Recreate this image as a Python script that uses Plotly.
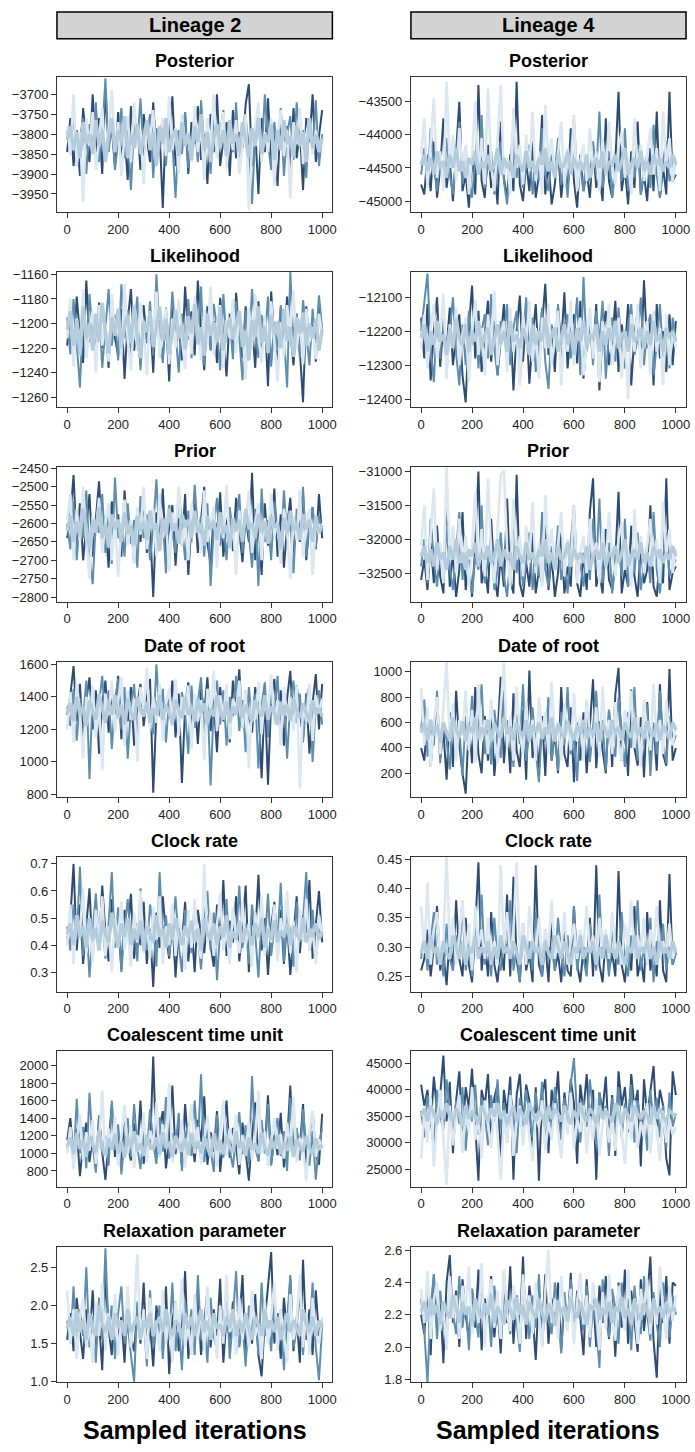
import numpy as np
import plotly.graph_objects as go

# ---------------- data (4 chains per panel, sampled iterations 0..1000) ----------------
l2_posterior = [
 [-3845,-3760,-3880,-3790,-3905,-3735,-3820,-3870,-3700,-3845,-3760,-3900,-3690,-3830,-3785,-3880,-3745,-3860,-3800,-3915,-3730,-3835,-3775,-3890,-3750,-3810,-3870,-3720,-3850,-3795,-3985,-3760,-3830,-3705,-3880,-3790,-3840,-3745,-3900,-3770,-3825,-3730,-3865,-3800,-3925,-3750,-3845,-3700,-3880,-3815,-3770,-3905,-3740,-3860,-3795,-3835,-3725,-3675,-3880,-3790,-3950,-3760,-3845,-3710,-3870,-3800,-3930,-3745,-3830,-3780,-3895,-3735,-3860,-3790,-3940,-3760,-3820,-3700,-3870,-3805,-3740],
 [-3790,-3850,-3740,-3880,-3810,-3760,-3900,-3775,-3835,-3720,-3870,-3800,-3660,-3845,-3765,-3890,-3815,-3735,-3860,-3790,-3940,-3770,-3830,-3710,-3855,-3800,-3750,-3910,-3785,-3840,-3760,-3880,-3725,-3820,-3960,-3790,-3850,-3745,-3885,-3805,-3765,-3870,-3715,-3835,-3790,-3900,-3750,-3855,-3800,-3740,-3875,-3780,-3845,-3720,-3890,-3810,-3760,-3830,-3975,-3795,-3745,-3860,-3700,-3820,-3890,-3770,-3845,-3735,-3905,-3800,-3755,-3865,-3720,-3830,-3790,-3910,-3760,-3845,-3715,-3880,-3800],
 [-3815,-3780,-3840,-3795,-3860,-3770,-3825,-3800,-3850,-3765,-3830,-3790,-3870,-3805,-3760,-3845,-3790,-3820,-3755,-3860,-3800,-3835,-3775,-3850,-3810,-3765,-3840,-3795,-3880,-3780,-3825,-3760,-3845,-3805,-3790,-3855,-3770,-3830,-3800,-3865,-3780,-3820,-3750,-3840,-3795,-3870,-3810,-3775,-3835,-3790,-3855,-3765,-3825,-3800,-3845,-3770,-3815,-3860,-3785,-3830,-3760,-3850,-3800,-3820,-3775,-3865,-3790,-3840,-3765,-3825,-3805,-3855,-3780,-3830,-3795,-3870,-3760,-3835,-3800,-3845,-3810],
 [-3780,-3850,-3700,-3880,-3795,-3970,-3760,-3830,-3745,-3890,-3810,-3735,-3860,-3790,-3690,-3845,-3770,-3905,-3800,-3755,-3870,-3720,-3835,-3790,-3925,-3765,-3815,-3740,-3880,-3800,-3760,-3855,-3705,-3840,-3785,-3900,-3750,-3825,-3795,-3870,-3730,-3845,-3780,-3915,-3760,-3830,-3700,-3860,-3805,-3745,-3885,-3790,-3840,-3765,-3900,-3815,-3750,-3990,-3835,-3780,-3720,-3870,-3795,-3845,-3760,-3930,-3805,-3740,-3855,-3790,-3960,-3770,-3825,-3735,-3875,-3800,-3760,-3850,-3790,-3830,-3815],
]
l2_likelihood = [
 [-1218,-1190,-1225,-1178,-1210,-1232,-1165,-1215,-1196,-1228,-1183,-1220,-1200,-1236,-1180,-1212,-1226,-1188,-1245,-1198,-1172,-1222,-1205,-1234,-1185,-1216,-1193,-1240,-1176,-1212,-1228,-1195,-1247,-1182,-1218,-1204,-1230,-1170,-1213,-1190,-1226,-1165,-1208,-1238,-1186,-1221,-1198,-1232,-1179,-1214,-1243,-1192,-1220,-1175,-1210,-1228,-1186,-1216,-1200,-1236,-1182,-1223,-1195,-1251,-1174,-1212,-1230,-1188,-1218,-1178,-1205,-1234,-1192,-1222,-1264,-1186,-1214,-1197,-1231,-1183,-1210],
 [-1195,-1225,-1180,-1214,-1252,-1190,-1228,-1176,-1208,-1222,-1185,-1236,-1200,-1172,-1218,-1193,-1230,-1168,-1212,-1189,-1226,-1203,-1178,-1238,-1196,-1215,-1182,-1226,-1160,-1210,-1232,-1187,-1220,-1174,-1206,-1240,-1192,-1217,-1180,-1228,-1198,-1213,-1170,-1234,-1190,-1222,-1184,-1205,-1238,-1176,-1215,-1196,-1229,-1182,-1211,-1246,-1189,-1220,-1172,-1206,-1228,-1193,-1214,-1178,-1235,-1199,-1222,-1185,-1210,-1252,-1158,-1216,-1192,-1228,-1181,-1209,-1234,-1188,-1219,-1177,-1205],
 [-1205,-1190,-1218,-1197,-1226,-1186,-1212,-1200,-1222,-1192,-1215,-1183,-1208,-1224,-1195,-1210,-1188,-1220,-1202,-1193,-1216,-1185,-1211,-1228,-1198,-1207,-1190,-1219,-1203,-1186,-1214,-1196,-1225,-1205,-1189,-1212,-1200,-1221,-1194,-1208,-1184,-1217,-1203,-1226,-1192,-1210,-1199,-1215,-1187,-1222,-1204,-1195,-1213,-1201,-1190,-1219,-1206,-1230,-1197,-1211,-1186,-1216,-1202,-1224,-1193,-1209,-1198,-1220,-1188,-1214,-1203,-1227,-1195,-1208,-1191,-1218,-1200,-1212,-1196,-1222,-1205],
 [-1212,-1180,-1235,-1196,-1220,-1172,-1228,-1205,-1190,-1240,-1185,-1218,-1200,-1231,-1176,-1210,-1193,-1226,-1168,-1214,-1238,-1195,-1222,-1183,-1207,-1242,-1190,-1216,-1174,-1228,-1202,-1188,-1233,-1196,-1220,-1180,-1211,-1237,-1194,-1225,-1178,-1206,-1230,-1189,-1218,-1170,-1226,-1201,-1185,-1236,-1197,-1212,-1180,-1224,-1191,-1206,-1245,-1187,-1219,-1176,-1210,-1232,-1194,-1223,-1182,-1214,-1247,-1199,-1227,-1185,-1208,-1173,-1221,-1196,-1233,-1188,-1215,-1203,-1229,-1192,-1210],
]
l2_prior = [
 [-2640,-2580,-2468,-2660,-2545,-2700,-2610,-2520,-2690,-2575,-2485,-2650,-2600,-2720,-2540,-2630,-2575,-2690,-2510,-2640,-2595,-2710,-2560,-2650,-2525,-2680,-2600,-2800,-2570,-2640,-2505,-2690,-2610,-2550,-2715,-2585,-2660,-2520,-2740,-2600,-2545,-2680,-2590,-2500,-2655,-2710,-2570,-2630,-2515,-2690,-2600,-2560,-2675,-2530,-2620,-2705,-2580,-2650,-2462,-2700,-2590,-2740,-2545,-2660,-2600,-2505,-2690,-2575,-2720,-2610,-2530,-2680,-2590,-2650,-2520,-2700,-2605,-2555,-2670,-2520,-2640],
 [-2600,-2670,-2540,-2700,-2580,-2640,-2510,-2690,-2765,-2590,-2625,-2520,-2680,-2560,-2710,-2475,-2640,-2600,-2690,-2545,-2655,-2590,-2720,-2525,-2640,-2575,-2700,-2610,-2480,-2660,-2590,-2735,-2550,-2625,-2680,-2510,-2600,-2700,-2565,-2650,-2495,-2620,-2580,-2690,-2545,-2770,-2610,-2530,-2660,-2590,-2700,-2555,-2640,-2600,-2520,-2680,-2575,-2630,-2720,-2560,-2770,-2505,-2650,-2590,-2700,-2540,-2620,-2680,-2510,-2640,-2590,-2735,-2560,-2625,-2500,-2690,-2600,-2555,-2665,-2580,-2620],
 [-2620,-2580,-2650,-2595,-2635,-2560,-2610,-2670,-2590,-2625,-2555,-2640,-2600,-2665,-2575,-2615,-2590,-2650,-2570,-2630,-2605,-2660,-2580,-2620,-2595,-2645,-2565,-2615,-2600,-2675,-2585,-2630,-2560,-2620,-2600,-2655,-2575,-2610,-2590,-2640,-2565,-2625,-2600,-2660,-2580,-2615,-2595,-2645,-2570,-2630,-2605,-2665,-2585,-2620,-2590,-2650,-2560,-2615,-2600,-2640,-2575,-2625,-2595,-2655,-2580,-2610,-2600,-2670,-2585,-2630,-2565,-2620,-2600,-2645,-2575,-2615,-2590,-2650,-2580,-2625,-2605],
 [-2590,-2520,-2700,-2560,-2650,-2500,-2640,-2750,-2580,-2620,-2530,-2680,-2600,-2545,-2700,-2585,-2745,-2610,-2535,-2660,-2590,-2710,-2555,-2630,-2500,-2670,-2600,-2560,-2690,-2520,-2640,-2595,-2730,-2570,-2620,-2500,-2660,-2590,-2700,-2545,-2625,-2590,-2680,-2510,-2650,-2600,-2555,-2720,-2580,-2640,-2495,-2670,-2600,-2740,-2565,-2630,-2590,-2510,-2680,-2600,-2545,-2700,-2585,-2650,-2520,-2635,-2595,-2710,-2560,-2620,-2750,-2580,-2645,-2510,-2690,-2600,-2560,-2740,-2590,-2630,-2600],
]
l2_root = [
 [1290,1410,1590,1250,1480,1130,1380,1520,1200,1440,1050,1360,1500,1180,1420,1290,1530,1140,1390,1250,1460,1100,1350,1480,1220,1400,1510,810,1320,1450,1180,1380,1270,1500,1150,1420,870,1340,1490,1220,1400,1110,1450,1300,1520,1190,1370,1060,1460,1250,1400,1120,1500,1330,1570,1210,1440,1290,1180,1460,1350,900,1420,860,1380,1510,1230,1440,1100,1390,1560,1200,1470,1300,1150,1420,1050,1360,1540,1200,1480],
 [1340,1220,1450,1130,1390,1270,1500,895,1420,1180,1360,1530,1240,1440,1080,1380,1510,1200,1460,1020,1340,1480,1150,1400,1300,1520,1230,1170,1600,1280,1450,1120,1390,1250,1500,1190,1430,1300,1050,1470,1210,1380,1520,1160,1420,855,1360,1500,1230,1440,1100,1400,1280,1530,1190,1380,1060,1460,1240,1420,960,1350,1490,1150,1410,1300,1530,1180,1440,1020,1370,1500,1240,1420,1120,1390,1470,1000,1350,1440,1230],
 [1300,1360,1250,1400,1290,1340,1220,1380,1310,1260,1420,1330,1240,1370,1290,1410,1270,1350,1230,1390,1300,1260,1400,1320,1280,1370,1240,1330,1290,1410,1260,1350,1300,1230,1380,1320,1270,1400,1290,1340,1250,1390,1300,1360,1230,1330,1280,1410,1310,1260,1370,1240,1340,1290,1400,1270,1350,1300,1250,1380,1320,1280,1410,1260,1340,1300,1230,1370,1290,1350,1250,1390,1310,1270,1360,1300,1240,1380,1290,1330,1280],
 [1200,1430,1120,1480,1310,1020,1400,1250,1470,1150,1360,950,1420,1290,1500,1180,1380,1520,1100,1440,1260,1390,1000,1460,1320,1580,1200,1400,1240,1480,1130,1370,1450,1220,1510,1160,1400,1290,1470,1080,1420,1250,1380,1010,1450,1300,1560,1190,1410,1270,1480,1140,1390,1320,1500,1210,1440,960,1380,1260,1490,1170,1410,1300,1540,1230,1380,1100,1460,1280,1400,1190,1470,835,1360,1250,1480,1130,1410,1300,1390],
]
l2_clock = [
 [0.42,0.50,0.70,0.38,0.55,0.33,0.47,0.61,0.36,0.52,0.40,0.62,0.45,0.34,0.57,0.41,0.49,0.31,0.53,0.44,0.59,0.35,0.48,0.40,0.56,0.33,0.46,0.245,0.52,0.39,0.58,0.43,0.35,0.50,0.28,0.47,0.41,0.56,0.34,0.48,0.30,0.53,0.44,0.37,0.51,0.40,0.32,0.55,0.42,0.64,0.36,0.49,0.41,0.58,0.34,0.46,0.62,0.30,0.52,0.43,0.66,0.38,0.50,0.29,0.47,0.56,0.40,0.53,0.33,0.49,0.29,0.45,0.58,0.37,0.51,0.42,0.64,0.35,0.48,0.60,0.41],
 [0.47,0.38,0.55,0.42,0.69,0.36,0.50,0.28,0.45,0.59,0.40,0.52,0.35,0.48,0.67,0.39,0.54,0.30,0.46,0.57,0.41,0.50,0.34,0.61,0.43,0.38,0.55,0.47,0.32,0.67,0.42,0.51,0.36,0.48,0.58,0.40,0.30,0.53,0.44,0.37,0.56,0.42,0.31,0.49,0.60,0.38,0.52,0.27,0.46,0.41,0.57,0.35,0.50,0.43,0.62,0.39,0.48,0.33,0.55,0.44,0.28,0.51,0.40,0.59,0.36,0.47,0.42,0.63,0.34,0.52,0.45,0.32,0.56,0.41,0.49,0.67,0.38,0.53,0.35,0.46,0.43],
 [0.44,0.48,0.40,0.51,0.43,0.47,0.39,0.50,0.42,0.46,0.38,0.49,0.44,0.41,0.52,0.45,0.39,0.48,0.43,0.50,0.40,0.46,0.42,0.49,0.38,0.47,0.44,0.41,0.51,0.43,0.46,0.39,0.48,0.42,0.50,0.44,0.40,0.47,0.43,0.49,0.41,0.46,0.38,0.50,0.44,0.42,0.48,0.40,0.47,0.43,0.51,0.39,0.45,0.42,0.49,0.41,0.46,0.44,0.40,0.48,0.43,0.50,0.39,0.46,0.42,0.49,0.41,0.45,0.43,0.48,0.40,0.47,0.44,0.42,0.50,0.41,0.46,0.43,0.48,0.42,0.45],
 [0.40,0.55,0.33,0.51,0.45,0.61,0.37,0.48,0.34,0.53,0.42,0.58,0.36,0.47,0.30,0.50,0.43,0.56,0.38,0.46,0.32,0.52,0.41,0.60,0.37,0.49,0.35,0.54,0.42,0.58,0.33,0.47,0.40,0.55,0.36,0.50,0.44,0.31,0.53,0.39,0.57,0.42,0.35,0.70,0.41,0.52,0.36,0.48,0.59,0.38,0.46,0.33,0.54,0.43,0.37,0.56,0.40,0.48,0.32,0.52,0.42,0.58,0.36,0.47,0.41,0.55,0.34,0.50,0.43,0.60,0.37,0.49,0.30,0.53,0.41,0.57,0.38,0.46,0.33,0.51,0.44],
]
l2_coal = [
 [1150,1400,950,1280,740,1120,1350,900,1200,820,1430,1010,700,1180,1550,960,1250,850,1500,1080,920,1340,1020,1600,880,1210,1050,2100,960,1290,1480,830,1170,1770,990,1300,860,1560,1040,1220,900,1380,1130,1650,870,1240,1020,1480,790,1190,1600,950,1290,1070,760,1350,1000,690,1200,1580,910,1320,1050,1660,880,1210,980,1460,840,1130,1770,960,1260,1050,1560,830,1190,1480,990,870,1450],
 [1050,1250,870,1620,1000,1300,830,1690,1100,780,1420,980,1200,860,1600,1040,1330,760,1150,1400,960,1560,1080,820,1250,990,1500,1120,880,1410,1020,1640,940,1230,1080,1460,800,1190,1340,970,1600,1060,1900,900,1280,1020,790,1440,1110,950,1350,1040,840,1210,1470,990,1320,870,1880,1060,920,1380,1000,1560,860,1170,1400,970,1250,800,1630,1030,1290,920,1500,1080,860,1260,700,1120,1280],
 [1080,1180,990,1230,1050,1150,960,1200,1100,1010,1260,1070,980,1170,1040,1220,1000,1130,950,1190,1060,1250,1020,1110,970,1210,1080,1040,1180,990,1240,1060,1130,960,1200,1090,1020,1170,980,1230,1050,1140,1000,1190,1070,960,1220,1030,1150,990,1200,1080,1010,1250,1060,1130,970,1180,1040,1110,1000,1230,1070,980,1160,1050,1210,990,1120,1030,1190,960,1150,1080,1020,1200,1060,990,1170,1040,1100],
 [1000,1300,820,1160,1450,920,1240,1030,1380,880,1120,1710,960,1280,1060,1420,860,1180,1550,990,1310,830,1210,1040,1470,900,1260,1100,1580,950,1330,1070,1790,890,1160,1010,1380,840,1240,1560,1000,1300,880,1150,1420,1020,1230,850,1190,1600,970,1280,1100,1440,870,1210,1030,1360,920,1180,1710,990,1250,860,1140,1400,1050,1220,940,1350,1020,1650,900,1180,1070,690,1240,1480,960,1160,1050],
]
l2_relax = [
 [1.55,1.90,1.40,2.10,1.65,1.30,1.95,1.50,2.20,1.45,1.80,1.15,2.40,1.70,1.35,2.05,1.55,1.85,1.25,2.15,1.60,1.40,1.95,1.50,2.30,1.35,1.75,1.20,2.00,1.60,1.45,2.25,1.10,1.80,2.05,1.40,1.70,2.45,1.30,1.90,1.55,2.10,1.35,1.75,2.20,1.45,1.95,1.60,2.35,1.25,1.85,1.55,2.05,1.40,1.75,2.40,1.30,1.90,1.50,2.15,1.35,1.07,1.80,2.25,2.70,1.50,1.90,1.30,2.10,1.65,2.35,1.40,1.85,1.25,2.60,1.55,1.95,1.35,2.20,1.60,1.80],
 [1.80,1.50,2.25,1.35,1.95,1.60,2.50,1.45,1.85,1.25,2.10,1.55,2.75,1.65,2.00,1.30,1.90,2.25,1.50,1.75,1.35,1.00,2.05,1.60,1.85,1.20,2.20,1.45,1.70,2.00,1.30,1.90,1.55,2.30,1.40,1.80,1.15,2.05,1.65,1.95,1.35,2.40,1.55,1.80,1.25,2.10,1.60,1.40,1.95,1.70,2.25,1.30,1.85,2.45,1.45,1.75,1.20,2.00,1.55,1.90,1.35,2.30,1.60,1.80,1.40,2.15,1.50,1.95,1.15,1.85,2.40,1.45,1.70,2.20,1.35,1.90,1.60,2.30,1.45,1.02,1.75],
 [1.70,1.85,1.60,1.95,1.65,1.80,1.55,1.90,1.70,1.60,2.00,1.75,1.65,1.85,1.55,1.90,1.70,1.80,1.60,1.95,1.65,1.75,1.85,1.55,1.80,1.70,1.90,1.60,1.75,1.85,1.65,1.95,1.70,1.60,1.80,1.75,1.55,1.90,1.70,1.85,1.60,1.75,1.95,1.65,1.80,1.55,1.90,1.70,1.75,1.60,1.85,1.70,1.95,1.60,1.80,1.65,1.90,1.70,1.55,1.85,1.75,1.60,1.95,1.70,1.80,1.65,1.85,1.55,1.75,1.90,1.65,1.80,1.70,1.60,1.95,1.75,1.65,1.85,1.60,1.80,1.70],
 [2.20,1.50,1.95,1.30,1.85,2.10,1.45,1.75,1.25,2.05,1.60,2.30,1.40,1.90,1.55,2.15,1.35,1.80,1.65,2.25,1.45,1.85,2.67,1.55,1.95,1.30,2.10,1.60,1.80,1.40,2.20,1.50,1.90,1.25,2.05,1.65,2.35,1.45,1.75,1.35,2.15,1.55,1.95,1.40,2.25,1.60,1.85,1.30,2.00,1.50,2.40,1.65,1.80,1.35,2.10,1.55,1.90,1.45,2.20,1.60,1.75,1.30,2.05,1.50,1.85,2.30,1.40,1.95,1.60,1.25,2.15,1.55,1.80,2.40,1.45,1.90,1.35,2.10,1.65,1.50,1.85],
]

l4_posterior = [
 [-44750,-44900,-44300,-44850,-44100,-44950,-44500,-43750,-44800,-44400,-45000,-44200,-43500,-44850,-44600,-45100,-44300,-44900,-43250,-44700,-44950,-44150,-44800,-44500,-45050,-43800,-44650,-44950,-44300,-44850,-43200,-44750,-45000,-44400,-44850,-44100,-44950,-44600,-43700,-44900,-44400,-45050,-44750,-44200,-44950,-44500,-44850,-43900,-44700,-45100,-44300,-44850,-44550,-44950,-44150,-44800,-44600,-45000,-43750,-44700,-44950,-44400,-43350,-44850,-44500,-45050,-44250,-44800,-43800,-44900,-44600,-45000,-44200,-44850,-43650,-44950,-44500,-44900,-43350,-44700,-44600],
 [-44600,-44200,-44750,-43900,-44500,-44850,-44300,-44700,-44050,-44600,-44900,-44400,-43800,-44750,-44200,-44650,-44950,-44350,-44600,-43700,-44800,-44450,-44250,-44900,-44550,-44100,-44700,-45050,-44400,-43850,-44650,-44300,-44800,-44500,-44150,-44900,-44400,-44700,-43900,-44600,-44850,-44300,-44550,-44050,-44750,-44400,-44950,-44200,-43750,-44650,-44500,-44850,-44300,-44700,-44100,-44600,-43650,-44800,-44450,-44250,-44950,-44550,-44200,-44700,-43900,-44850,-44400,-44650,-44150,-44900,-44500,-44300,-44800,-43850,-44600,-44950,-44400,-44100,-44700,-44550,-44450],
 [-44450,-44300,-44550,-44350,-44600,-44250,-44500,-44400,-44650,-44300,-44500,-44200,-44550,-44400,-44650,-44350,-44450,-44250,-44600,-44400,-44500,-44300,-44550,-44450,-44200,-44600,-44350,-44500,-44400,-44650,-44300,-44450,-44550,-44250,-44500,-44400,-44600,-44350,-44450,-44200,-44550,-44400,-44650,-44300,-44500,-44450,-44250,-44600,-44350,-44500,-44400,-44550,-44300,-44650,-44450,-44350,-44500,-44250,-44600,-44400,-44450,-44300,-44550,-44400,-44200,-44600,-44450,-44350,-44500,-44250,-44550,-44400,-44600,-44300,-44450,-44350,-44550,-44400,-44500,-44300,-44450],
 [-44300,-43750,-44800,-44100,-43450,-44650,-44250,-44850,-43200,-44500,-44000,-44700,-43900,-44550,-44150,-44900,-44300,-43500,-44600,-44050,-44750,-43300,-44450,-44850,-44100,-43250,-44600,-44350,-44900,-43600,-44500,-44150,-44750,-44000,-44550,-43650,-44700,-44250,-44900,-43550,-44400,-44050,-44650,-44300,-43800,-44750,-44200,-44600,-43700,-44850,-44400,-44150,-44700,-43900,-44500,-44250,-44850,-44050,-44600,-43800,-44450,-44750,-44200,-43950,-44650,-44350,-44900,-43750,-44500,-44150,-44700,-44300,-43900,-44600,-44200,-44850,-43650,-44450,-44050,-44700,-44350],
]
l4_likelihood = [
 [-12160,-12280,-12120,-12345,-12200,-12100,-12305,-12180,-12250,-12130,-12300,-12215,-12150,-12330,-12410,-12190,-12065,-12280,-12140,-12320,-12210,-12110,-12290,-12170,-12330,-12235,-12120,-12280,-12160,-12375,-12200,-12095,-12290,-12150,-12355,-12220,-12120,-12300,-12175,-12060,-12270,-12190,-12320,-12130,-12240,-12085,-12310,-12200,-12150,-12295,-12110,-12340,-12220,-12160,-12280,-12120,-12375,-12200,-12140,-12300,-12230,-12110,-12320,-12180,-12260,-12120,-12360,-12210,-12140,-12300,-12050,-12250,-12160,-12360,-12120,-12280,-12200,-12320,-12150,-12300,-12170],
 [-12200,-12120,-12030,-12250,-12350,-12160,-12280,-12120,-12320,-12200,-12100,-12265,-12360,-12180,-12300,-12140,-12240,-12110,-12310,-12200,-12150,-12280,-12090,-12250,-12330,-12170,-12220,-12120,-12300,-12190,-12140,-12350,-12210,-12100,-12270,-12160,-12320,-12225,-12130,-12290,-12370,-12180,-12250,-12120,-12300,-12190,-12150,-12280,-12210,-12100,-12330,-12040,-12260,-12170,-12300,-12140,-12230,-12110,-12340,-12200,-12160,-12290,-12130,-12250,-12310,-12180,-12120,-12270,-12220,-12100,-12300,-12190,-12150,-12330,-12240,-12120,-12280,-12200,-12310,-12160,-12230],
 [-12220,-12180,-12260,-12200,-12240,-12170,-12230,-12210,-12270,-12190,-12250,-12160,-12220,-12240,-12180,-12260,-12200,-12230,-12170,-12250,-12210,-12190,-12270,-12220,-12180,-12240,-12200,-12260,-12170,-12230,-12210,-12250,-12190,-12220,-12270,-12180,-12240,-12200,-12230,-12160,-12250,-12210,-12190,-12260,-12220,-12180,-12240,-12200,-12270,-12190,-12230,-12170,-12250,-12210,-12220,-12180,-12260,-12200,-12240,-12190,-12230,-12170,-12250,-12210,-12200,-12260,-12180,-12230,-12220,-12190,-12250,-12200,-12240,-12170,-12230,-12210,-12260,-12190,-12220,-12200,-12230],
 [-12250,-12150,-12310,-12190,-12120,-12280,-12220,-12090,-12340,-12180,-12240,-12130,-12300,-12210,-12160,-12350,-12200,-12110,-12270,-12190,-12330,-12150,-12240,-12080,-12300,-12210,-12170,-12320,-12130,-12260,-12200,-12360,-12150,-12230,-12110,-12290,-12190,-12340,-12160,-12250,-12120,-12300,-12210,-12140,-12360,-12180,-12260,-12110,-12300,-12200,-12160,-12330,-12230,-12130,-12280,-12190,-12350,-12170,-12240,-12120,-12300,-12210,-12160,-12340,-12200,-12400,-12150,-12260,-12120,-12310,-12210,-12170,-12330,-12140,-12260,-12190,-12360,-12150,-12300,-12200,-12250],
]
l4_prior = [
 [-32600,-32300,-32750,-32050,-32650,-31800,-32550,-32800,-31500,-32700,-32200,-32850,-32450,-31600,-32750,-32300,-32850,-32100,-31000,-32650,-32400,-32800,-31700,-32550,-32850,-32250,-32700,-31400,-32600,-32800,-31050,-32650,-32850,-32350,-32700,-31900,-32800,-32450,-32650,-31650,-32750,-32250,-32850,-32500,-31900,-32800,-32400,-32700,-31550,-32650,-32850,-32200,-32750,-31600,-31100,-32700,-32500,-32800,-31850,-32600,-32750,-32300,-31300,-32800,-32450,-32700,-31800,-32550,-32850,-32100,-32650,-32450,-31500,-32700,-32850,-32250,-32650,-31100,-32750,-32500,-32400],
 [-32400,-32000,-32650,-31700,-32300,-32700,-32100,-32550,-31800,-32400,-32750,-32200,-31600,-32600,-32000,-32500,-32800,-32250,-32450,-31500,-32650,-32300,-32000,-32750,-32450,-31900,-32550,-32850,-32200,-31700,-32500,-32100,-32700,-32350,-31900,-32750,-32250,-32550,-31600,-32450,-32700,-32100,-32400,-31800,-32600,-32300,-32800,-32050,-31500,-32500,-32350,-32700,-32100,-32600,-31700,-32450,-31400,-32650,-32250,-32050,-32800,-32400,-32000,-32550,-31700,-32700,-32200,-32500,-31900,-32750,-32350,-32100,-32650,-31600,-32450,-32800,-32250,-31900,-32550,-32400,-32300],
 [-32250,-32100,-32350,-32150,-32400,-32050,-32300,-32200,-32450,-32100,-32300,-32000,-32350,-32200,-32450,-32150,-32250,-32050,-32400,-32200,-32300,-32100,-32350,-32250,-32000,-32400,-32150,-32300,-32200,-32450,-32100,-32250,-32350,-32050,-32300,-32200,-32400,-32150,-32250,-32000,-32350,-32200,-32450,-32100,-32300,-32250,-32050,-32400,-32150,-32300,-32200,-32350,-32100,-32450,-32250,-32150,-32300,-32050,-32400,-32200,-32250,-32100,-32350,-32200,-32000,-32400,-32250,-32150,-32300,-32050,-32350,-32200,-32400,-32100,-32250,-32150,-32350,-32200,-32300,-32100,-32250],
 [-32100,-31500,-32600,-31900,-31250,-32450,-32050,-32650,-30940,-32300,-31800,-32500,-31700,-32350,-31950,-32700,-32100,-31300,-32400,-31850,-32550,-31100,-32250,-32650,-31900,-31050,-30980,-32150,-32700,-31400,-32300,-31950,-32550,-31800,-32350,-31450,-32500,-32050,-32700,-31350,-32200,-31850,-32450,-32100,-31600,-32550,-32000,-32400,-31500,-32650,-32200,-31950,-32500,-31700,-32300,-32050,-32650,-31850,-32400,-31600,-32250,-32550,-32000,-31750,-32450,-32150,-32700,-31550,-32300,-31950,-32500,-32100,-31700,-32400,-32000,-32650,-31450,-32250,-31850,-32500,-32150],
]
l4_root = [
 [400,300,650,250,580,760,320,540,150,680,250,850,420,200,40,600,280,880,350,200,650,300,730,180,500,960,280,620,200,830,380,250,700,150,1010,320,560,220,650,180,780,300,520,200,880,350,250,720,130,600,300,680,200,540,940,240,610,380,200,700,250,820,1030,300,560,180,860,400,260,640,170,760,300,580,220,900,350,260,1020,300,400],
 [550,780,330,620,420,850,280,600,460,230,700,380,560,180,650,420,810,300,550,900,350,620,270,700,480,320,850,410,580,250,660,430,900,300,520,720,380,130,600,450,800,300,560,220,680,420,880,350,500,140,620,400,760,290,560,850,370,620,220,700,450,330,800,520,250,680,400,880,300,560,420,750,180,600,350,850,460,280,650,420,500],
 [520,600,460,620,500,580,440,600,520,470,640,540,480,610,450,580,520,640,470,560,500,620,450,590,530,480,640,510,570,460,600,530,490,620,450,580,520,600,470,560,510,640,460,590,520,480,610,540,460,580,510,620,470,560,500,600,450,590,530,480,620,510,570,460,600,520,480,640,500,560,470,610,520,490,590,460,580,530,470,600,540],
 [870,420,720,250,600,800,350,680,1075,450,750,300,620,500,850,380,700,280,900,450,620,350,780,500,280,720,1070,400,650,300,880,520,350,760,450,620,300,800,500,680,350,920,450,600,300,750,550,380,830,450,650,300,780,520,400,720,330,880,480,620,350,760,450,300,700,540,850,400,640,250,780,500,380,900,450,620,350,780,520,420,580],
]
l4_clock = [
 [0.26,0.28,0.33,0.25,0.30,0.37,0.26,0.29,0.235,0.32,0.26,0.38,0.28,0.25,0.35,0.27,0.24,0.33,0.445,0.26,0.31,0.25,0.36,0.27,0.24,0.30,0.26,0.39,0.25,0.42,0.28,0.24,0.34,0.26,0.29,0.24,0.44,0.27,0.25,0.31,0.24,0.35,0.26,0.29,0.24,0.33,0.26,0.25,0.37,0.27,0.24,0.30,0.26,0.35,0.25,0.44,0.27,0.24,0.32,0.26,0.29,0.25,0.43,0.27,0.24,0.31,0.26,0.37,0.25,0.28,0.24,0.36,0.26,0.30,0.25,0.38,0.26,0.24,0.425,0.27,0.29],
 [0.28,0.33,0.26,0.31,0.36,0.27,0.30,0.25,0.34,0.28,0.26,0.32,0.29,0.37,0.26,0.30,0.25,0.33,0.28,0.39,0.27,0.31,0.25,0.35,0.28,0.26,0.32,0.29,0.38,0.26,0.30,0.24,0.34,0.28,0.31,0.26,0.36,0.29,0.25,0.33,0.28,0.30,0.26,0.35,0.29,0.25,0.32,0.27,0.37,0.26,0.30,0.28,0.25,0.34,0.29,0.26,0.39,0.28,0.31,0.25,0.33,0.29,0.27,0.36,0.28,0.25,0.32,0.29,0.38,0.26,0.30,0.27,0.35,0.24,0.31,0.28,0.34,0.26,0.30,0.27,0.29],
 [0.29,0.31,0.28,0.32,0.29,0.30,0.27,0.31,0.29,0.28,0.32,0.30,0.28,0.31,0.27,0.30,0.29,0.32,0.28,0.30,0.29,0.31,0.27,0.30,0.28,0.32,0.29,0.30,0.28,0.31,0.29,0.27,0.32,0.30,0.28,0.31,0.29,0.30,0.27,0.31,0.29,0.28,0.32,0.30,0.28,0.31,0.29,0.27,0.30,0.29,0.32,0.28,0.30,0.29,0.31,0.27,0.30,0.28,0.32,0.29,0.30,0.28,0.31,0.29,0.27,0.30,0.29,0.32,0.28,0.30,0.29,0.31,0.28,0.30,0.27,0.31,0.29,0.30,0.28,0.31,0.29],
 [0.37,0.29,0.41,0.27,0.33,0.36,0.28,0.31,0.455,0.30,0.35,0.27,0.32,0.38,0.29,0.34,0.26,0.37,0.30,0.33,0.28,0.35,0.29,0.31,0.27,0.44,0.30,0.36,0.28,0.33,0.445,0.29,0.34,0.27,0.37,0.31,0.29,0.35,0.28,0.33,0.30,0.38,0.28,0.32,0.29,0.36,0.27,0.31,0.34,0.28,0.33,0.30,0.37,0.29,0.32,0.27,0.35,0.30,0.33,0.28,0.36,0.29,0.31,0.27,0.34,0.30,0.38,0.28,0.32,0.29,0.35,0.27,0.33,0.30,0.37,0.28,0.31,0.29,0.34,0.28,0.30],
]
l4_coal = [
 [41000,37000,40000,33000,42500,36000,39000,46500,34000,41500,28000,38000,43500,31000,40500,36500,44000,32000,22800,40000,37000,43000,30000,38500,41000,26500,40000,35500,42500,23000,39000,43000,33000,41000,38000,27000,40500,22800,39000,42000,28000,40000,36000,43500,30500,39500,34000,42000,37500,26000,41000,36000,43000,33000,40000,23000,39500,36000,42500,30000,39000,27500,43500,37000,40500,32000,43000,36500,40000,25500,42000,35000,39500,44500,33000,40000,37000,27000,23800,43500,39000],
 [36000,31000,39000,34500,29000,40000,35000,32500,42000,36500,30000,38000,33500,40500,28500,37000,34000,41000,31500,38500,35500,29500,39000,34000,42000,32500,37500,30000,40000,35000,28000,38500,33000,40000,35500,31000,39500,34000,41500,29000,37000,32500,40500,36000,30500,38500,33500,41000,46000,35000,30000,38000,33000,42000,36000,29500,39500,34500,37000,27500,38500,33000,40500,31000,37500,35000,41000,30000,38000,33500,36500,28500,40000,34000,38500,31000,37000,29000,39500,33000,35500],
 [35000,36500,34000,37000,35500,33500,36000,34500,37500,35000,34000,36500,35500,33000,37000,34500,36000,35000,33500,37000,35500,34000,36500,35000,37500,34500,36000,33500,35500,37000,34000,36500,35000,33500,37500,35500,34000,36000,35000,33000,37000,34500,36500,35500,34000,37000,35000,33500,36000,34500,37500,35000,34000,36500,35500,33500,37000,34500,36000,35000,34000,37500,35500,33500,36500,35000,34000,37000,35500,34500,36000,35000,33500,37000,34500,36500,35000,34000,36000,35500,35000],
 [27000,36000,30000,38500,25500,34000,40000,31000,22000,37000,29500,35500,39000,28000,36500,32000,40500,30500,35000,27000,38000,33500,29000,37500,31500,23000,35000,30000,39000,27500,34500,37000,29500,36000,31000,26500,35500,33000,38000,28500,34000,30500,37500,32500,27000,36000,31500,39500,29000,34500,32000,37000,28000,35000,30500,38500,27500,33500,36500,30000,35000,28500,37000,32000,26000,35500,30500,38000,29000,34000,31000,37500,28000,35500,32500,26500,36000,30000,34500,31500,33000],
]
l4_relax = [
 [2.20,2.08,2.38,1.95,2.45,2.10,2.30,1.90,2.40,2.57,2.15,2.35,2.00,2.42,2.20,2.05,2.36,2.12,2.48,1.98,2.30,2.18,2.44,2.06,2.28,1.96,2.40,2.15,2.50,2.02,2.32,2.12,2.56,2.05,2.38,2.20,1.92,2.35,2.10,2.45,2.02,2.30,2.15,2.40,1.98,2.28,2.12,2.46,2.05,2.35,2.18,1.95,2.42,2.10,2.32,2.00,2.38,2.15,2.44,2.05,2.30,1.94,2.40,2.12,2.48,2.02,2.35,2.18,1.97,2.42,2.10,2.30,2.56,2.04,1.81,2.36,2.15,2.44,2.02,2.40,2.38],
 [2.30,2.10,1.78,2.25,2.45,2.05,2.35,2.15,2.02,2.40,2.20,2.08,2.44,2.12,2.30,1.98,2.36,2.20,2.06,2.42,2.14,2.30,2.00,2.38,2.18,2.05,2.46,2.22,2.08,2.35,2.15,1.97,2.40,2.25,2.05,2.32,2.12,2.45,2.00,2.28,2.18,2.08,2.40,2.22,1.96,2.34,2.14,2.42,2.05,2.30,2.20,2.10,2.38,2.00,2.26,2.15,1.87,2.42,2.18,2.06,2.36,2.24,2.02,2.40,2.12,2.30,1.98,2.38,2.16,2.08,2.44,2.20,2.04,2.34,2.14,2.00,2.40,2.22,2.06,2.32,2.20],
 [2.22,2.28,2.16,2.30,2.20,2.26,2.14,2.28,2.22,2.18,2.32,2.24,2.15,2.28,2.20,2.25,2.13,2.30,2.22,2.18,2.27,2.20,2.32,2.15,2.25,2.21,2.14,2.29,2.23,2.17,2.31,2.20,2.26,2.14,2.28,2.22,2.18,2.30,2.21,2.15,2.27,2.23,2.13,2.29,2.20,2.25,2.16,2.31,2.22,2.18,2.28,2.20,2.14,2.26,2.23,2.30,2.17,2.24,2.20,2.28,2.15,2.25,2.22,2.31,2.18,2.24,2.14,2.29,2.21,2.17,2.27,2.23,2.15,2.30,2.20,2.25,2.18,2.28,2.21,2.24,2.22],
 [2.36,2.15,2.47,2.05,2.30,2.40,2.10,2.25,1.98,2.44,2.18,2.32,2.05,2.38,2.22,2.50,2.08,2.30,2.15,2.52,2.00,2.28,2.42,2.12,2.35,2.05,2.48,2.20,2.10,2.38,2.25,2.02,2.45,2.18,2.32,2.08,2.40,2.22,2.00,2.35,2.60,2.15,2.30,2.05,2.44,2.20,2.10,2.36,2.02,2.28,2.46,2.14,2.32,2.06,2.40,2.22,1.98,2.34,2.12,2.45,2.18,2.04,2.38,2.25,2.10,2.48,2.16,2.30,2.02,2.36,2.20,2.42,2.08,2.30,2.14,2.50,2.22,2.05,2.38,2.16,2.32],
]

panel_titles = ["Posterior", "Likelihood", "Prior", "Date of root", "Clock rate",
                "Coalescent time unit", "Relaxation parameter"]
lineage_labels = ["Lineage 2", "Lineage 4"]
x_ticks = [0, 200, 400, 600, 800, 1000]

l2_yticks = [[-3950, -3900, -3850, -3800, -3750, -3700],
             [-1260, -1240, -1220, -1200, -1180, -1160],
             [-2800, -2750, -2700, -2650, -2600, -2550, -2500, -2450],
             [800, 1000, 1200, 1400, 1600],
             [0.3, 0.4, 0.5, 0.6, 0.7],
             [800, 1000, 1200, 1400, 1600, 1800, 2000],
             [1.0, 1.5, 2.0, 2.5]]
l4_yticks = [[-45000, -44500, -44000, -43500],
             [-12400, -12300, -12200, -12100],
             [-32500, -32000, -31500, -31000],
             [200, 400, 600, 800, 1000],
             [0.25, 0.30, 0.35, 0.40, 0.45],
             [25000, 30000, 35000, 40000, 45000],
             [1.8, 2.0, 2.2, 2.4, 2.6]]

# ---------------- layout / style ----------------
W, H = 695, 1452
col_x = [(57.3, 334.3), (413.3, 690.0)]
row_top = [71.7, 268.3, 464.7, 661.7, 858.3, 1054.7, 1252.0]
box_h = 136.5
l2_ranges = [[-3996, -3657], [-1268, -1158], [-2813, -2445], [784, 1616],
             [0.227, 0.727], [623, 2161], [0.995, 2.77]]
l4_ranges = [[-45170, -43128], [-12424, -12025], [-32924, -30927], [13, 1078],
             [0.2235, 0.4546], [21700, 47300], [1.783, 2.621]]
l2_fmt = ["{:.0f}"] * 4 + ["{:.1f}", "{:.0f}", "{:.1f}"]
l4_fmt = ["{:.0f}"] * 4 + ["{:.2f}", "{:.0f}", "{:.1f}"]

# chain index -> (colour, width); drawing order: dark, medium, very light, light steel on top
chain_style = {0: ("#2E4B73", 2.0), 1: ("#5E8EAE", 2.0), 3: ("#DCE7EF", 2.6), 2: ("#B5CCDC", 3.4)}
draw_order = [0, 1, 3, 2]
FONT = "Liberation Sans, Arial, Helvetica, sans-serif"

data_cols = [[l2_posterior, l2_likelihood, l2_prior, l2_root, l2_clock, l2_coal, l2_relax],
             [l4_posterior, l4_likelihood, l4_prior, l4_root, l4_clock, l4_coal, l4_relax]]
ranges = [l2_ranges, l4_ranges]
yticks = [l2_yticks, l4_yticks]
fmts = [l2_fmt, l4_fmt]

fig = go.Figure()
layout = dict(width=W, height=H, margin=dict(l=0, r=0, t=0, b=0),
              paper_bgcolor="white", plot_bgcolor="white", showlegend=False,
              annotations=[], shapes=[])


def px2y(py):
    return 1 - py / H


n = 0
for c in range(2):
    for r in range(7):
        n += 1
        xa = "xaxis" if n == 1 else f"xaxis{n}"
        ya = "yaxis" if n == 1 else f"yaxis{n}"
        xref = "x" if n == 1 else f"x{n}"
        yref = "y" if n == 1 else f"y{n}"
        chains = data_cols[c][r]
        for ci in draw_order:
            vals = chains[ci]
            it = np.linspace(0, 1000, len(vals))
            col, wid = chain_style[ci]
            fig.add_trace(go.Scatter(x=it, y=vals, mode="lines", xaxis=xref, yaxis=yref,
                                     line=dict(color=col, width=wid), hoverinfo="skip"))
        x0, x1 = col_x[c]
        top = row_top[r]
        tv = yticks[c][r]
        tt = [fmts[c][r].format(v).replace("-", "\u2212") for v in tv]
        axis_common = dict(showline=True, linecolor="#333333", linewidth=1, mirror=True,
                           ticks="outside", ticklen=5, tickwidth=1, tickcolor="#333333",
                           showgrid=False, zeroline=False,
                           tickfont=dict(family=FONT, size=13, color="#222222"))
        layout[xa] = dict(domain=[x0 / W, x1 / W], range=[-40, 1040], anchor=yref,
                          tickmode="array", tickvals=x_ticks,
                          ticktext=[str(v) for v in x_ticks], **axis_common)
        layout[ya] = dict(domain=[px2y(top + box_h), px2y(top)], range=ranges[c][r], anchor=xref,
                          tickmode="array", tickvals=tv, ticktext=tt, **axis_common)
        layout["annotations"].append(dict(
            text=panel_titles[r], x=(x0 + x1) / 2 / W, y=px2y(top - 16),
            xref="paper", yref="paper", xanchor="center", yanchor="middle", showarrow=False,
            font=dict(family=FONT, size=18, color="black", weight="bold")))

for c in range(2):
    x0, x1 = col_x[c]
    layout["shapes"].append(dict(type="rect", xref="paper", yref="paper",
                                 x0=x0 / W, x1=x1 / W, y0=px2y(33), y1=px2y(6),
                                 fillcolor="#D3D3D3", line=dict(color="black", width=1.5),
                                 layer="below"))
    layout["annotations"].append(dict(
        text=lineage_labels[c], x=(x0 + x1) / 2 / W, y=px2y(19.5),
        xref="paper", yref="paper", xanchor="center", yanchor="middle", showarrow=False,
        font=dict(family=FONT, size=20, color="black", weight="bold")))
    layout["annotations"].append(dict(
        text="Sampled iterations", x=(x0 + x1) / 2 / W, y=px2y(1437),
        xref="paper", yref="paper", xanchor="center", yanchor="middle", showarrow=False,
        font=dict(family=FONT, size=25, color="black", weight="bold")))

fig.update_layout(**layout)
fig.write_html("out.html")
